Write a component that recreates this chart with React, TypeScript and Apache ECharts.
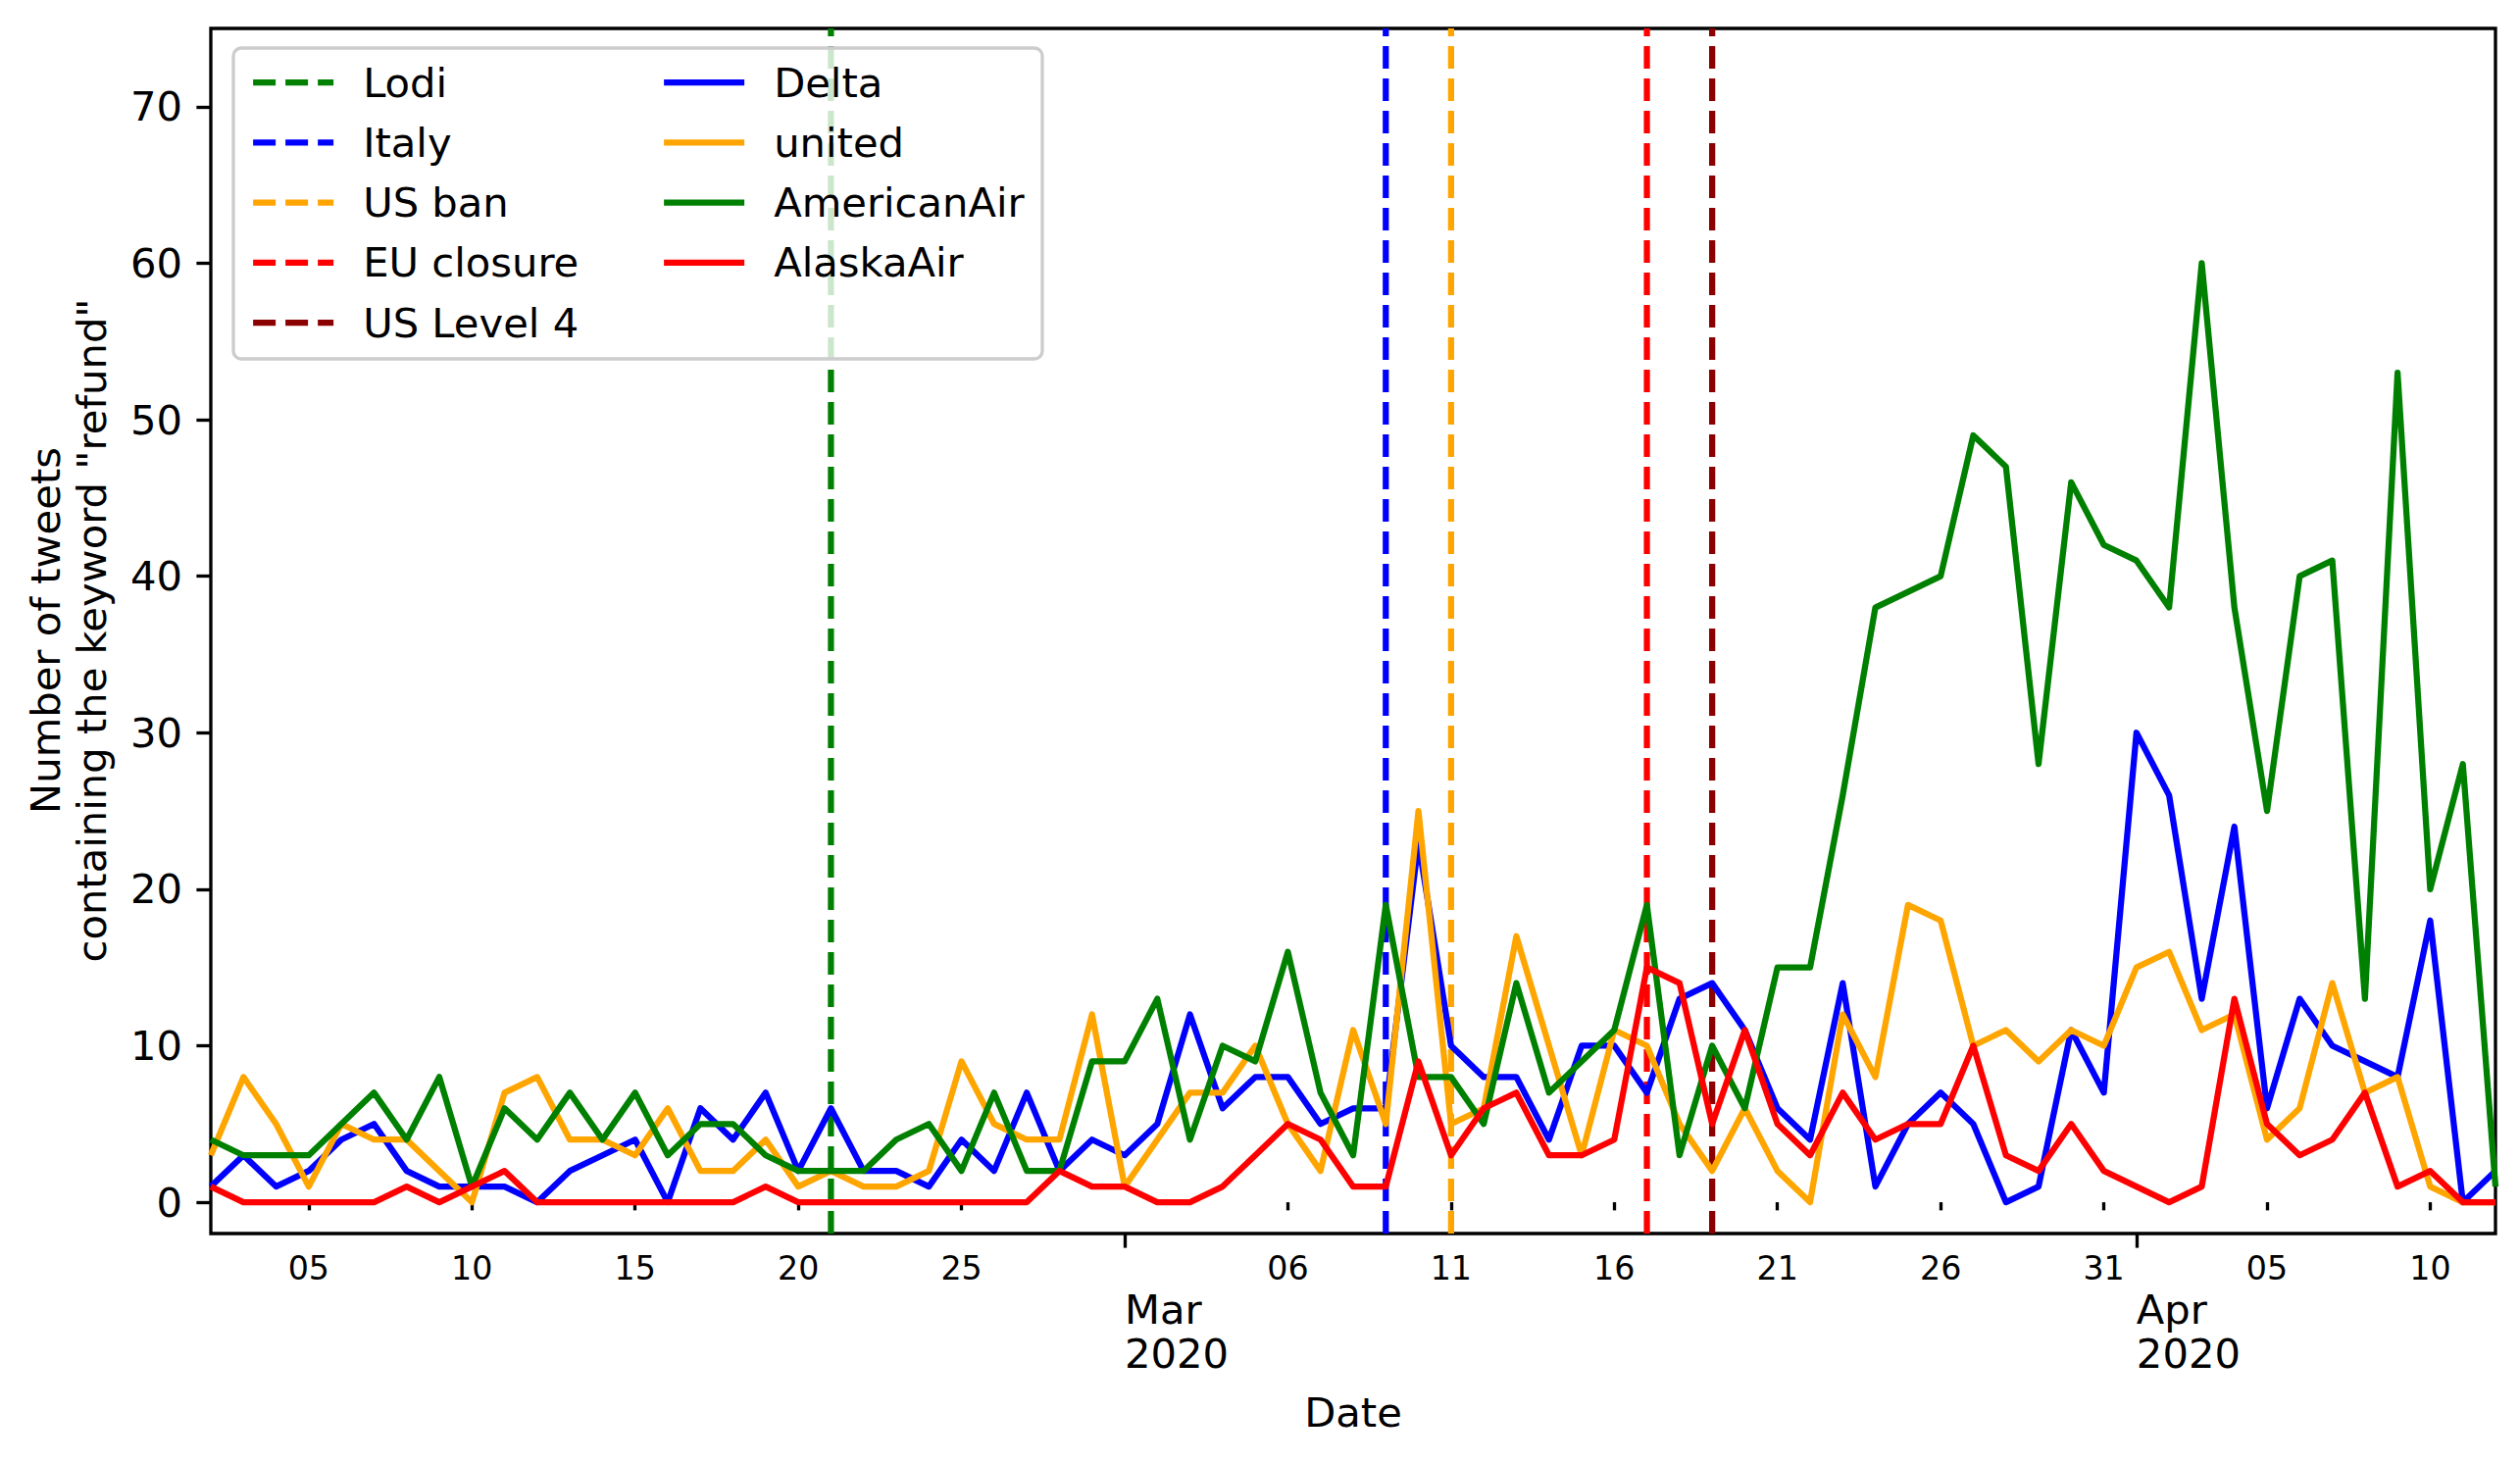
import React, { useEffect, useRef } from "react";
import * as echarts from "echarts";

const dates = [
  "2020-02-02", "2020-02-03", "2020-02-04", "2020-02-05", "2020-02-06", "2020-02-07", "2020-02-08",
  "2020-02-09", "2020-02-10", "2020-02-11", "2020-02-12", "2020-02-13", "2020-02-14", "2020-02-15",
  "2020-02-16", "2020-02-17", "2020-02-18", "2020-02-19", "2020-02-20", "2020-02-21", "2020-02-22",
  "2020-02-23", "2020-02-24", "2020-02-25", "2020-02-26", "2020-02-27", "2020-02-28", "2020-02-29",
  "2020-03-01", "2020-03-02", "2020-03-03", "2020-03-04", "2020-03-05", "2020-03-06", "2020-03-07",
  "2020-03-08", "2020-03-09", "2020-03-10", "2020-03-11", "2020-03-12", "2020-03-13", "2020-03-14",
  "2020-03-15", "2020-03-16", "2020-03-17", "2020-03-18", "2020-03-19", "2020-03-20", "2020-03-21",
  "2020-03-22", "2020-03-23", "2020-03-24", "2020-03-25", "2020-03-26", "2020-03-27", "2020-03-28",
  "2020-03-29", "2020-03-30", "2020-03-31", "2020-04-01", "2020-04-02", "2020-04-03", "2020-04-04",
  "2020-04-05", "2020-04-06", "2020-04-07", "2020-04-08", "2020-04-09", "2020-04-10", "2020-04-11",
  "2020-04-12",
];

const delta = [
  1, 3, 1, 2, 4, 5, 2, 1, 1, 1, 0, 2, 3,
  4, 0, 6, 4, 7, 2, 6, 2, 2, 1, 4, 2,
  7, 2, 4, 3, 5, 12, 6, 8, 8, 5, 6, 6,
  23, 10, 8, 8, 4, 10, 10, 7, 13, 14, 11, 6,
  4, 14, 1, 5, 7, 5, 0, 1, 11, 7, 30, 26,
  13, 24, 6, 13, 10, 9, 8, 18, 0, 2,
];

const united = [
  3, 8, 5, 1, 5, 4, 4, 2, 0, 7, 8, 4, 4,
  3, 6, 2, 2, 4, 1, 2, 1, 1, 2, 9, 5,
  4, 4, 12, 1, 4, 7, 7, 10, 5, 2, 11, 5,
  25, 5, 6, 17, 10, 3, 11, 10, 5, 2, 6, 2,
  0, 12, 8, 19, 18, 10, 11, 9, 11, 10, 15, 16,
  11, 12, 4, 6, 14, 7, 8, 1, 0, 0,
];

const americanAir = [
  4, 3, 3, 3, 5, 7, 4, 8, 1, 6, 4, 7, 4,
  7, 3, 5, 5, 3, 2, 2, 2, 4, 5, 2, 7,
  2, 2, 9, 9, 13, 4, 10, 9, 16, 7, 3, 19,
  8, 8, 5, 14, 7, 9, 11, 19, 3, 10, 6, 15,
  15, 26, 38, 39, 40, 49, 47, 28, 46, 42, 41, 38,
  60, 38, 25, 40, 41, 13, 53, 20, 28, 1,
];

const alaskaAir = [
  1, 0, 0, 0, 0, 0, 1, 0, 1, 2, 0, 0, 0,
  0, 0, 0, 0, 1, 0, 0, 0, 0, 0, 0, 0,
  0, 2, 1, 1, 0, 0, 1, 3, 5, 4, 1, 1,
  9, 3, 6, 7, 3, 3, 4, 15, 14, 5, 11, 5,
  3, 7, 4, 5, 5, 10, 3, 2, 5, 2, 1, 0,
  1, 13, 5, 3, 4, 7, 1, 2, 0, 0,
];

const airlineNames = ["Delta", "united", "AmericanAir", "AlaskaAir"];
const airlineColors = ["#0000ff", "#ffa500", "#008000", "#ff0000"];
const airlineValues = [delta, united, americanAir, alaskaAir];

const eventNames = ["Lodi", "Italy", "US ban", "EU closure", "US Level 4"];
const eventDates = ["2020-02-21", "2020-03-09", "2020-03-11", "2020-03-17", "2020-03-19"];
const eventColors = ["#008000", "#0000ff", "#ffa500", "#ff0000", "#8b0000"];

const yTicks = [0, 10, 20, 30, 40, 50, 60, 70];
const minorTickDates = [
  "2020-02-05", "2020-02-10", "2020-02-15", "2020-02-20", "2020-02-25",
  "2020-03-06", "2020-03-11", "2020-03-16", "2020-03-21", "2020-03-26", "2020-03-31",
  "2020-04-05", "2020-04-10",
];
const minorTickLabels = ["05", "10", "15", "20", "25", "06", "11", "16", "21", "26", "31", "05", "10"];
const majorTickDates = ["2020-03-01", "2020-04-01"];
const majorTickLabels = ["Mar\n2020", "Apr\n2020"];

const FONT = "'DejaVu Sans', 'Liberation Sans', sans-serif";
const LW = 6.25;
const SPINE = 3.33;

export default function App() {
  const ref = useRef<HTMLDivElement>(null);

  useEffect(() => {
    if (!ref.current) return;
    const chart = echarts.init(ref.current, null, { renderer: "svg" });

    const legendCommon = {
      orient: "vertical",
      top: 60,
      itemWidth: 82,
      itemHeight: 20,
      itemGap: 13.3,
      padding: 0,
      selectedMode: false,
      z: 10,
      itemStyle: { opacity: 0 },
      lineStyle: { width: LW },
      textStyle: {
        fontSize: 41.7,
        fontFamily: FONT,
        color: "#000",
        lineHeight: 48,
        padding: [0, 0, 0, 25],
      },
    };

    const option = {
      animation: false,
      backgroundColor: "#ffffff",
      grid: {
        left: 215,
        right: 25,
        top: 29,
        bottom: 233,
        show: true,
        borderColor: "#000",
        borderWidth: SPINE,
        backgroundColor: "transparent",
        containLabel: false,
      },
      xAxis: [
        {
          type: "category",
          data: dates,
          boundaryGap: false,
          axisLine: { show: false },
          axisTick: {
            show: true,
            length: 8.3,
            lineStyle: { color: "#000", width: SPINE },
            interval: (_i: number, v: string) => minorTickDates.includes(v),
          },
          axisLabel: {
            interval: (_i: number, v: string) => minorTickDates.includes(v),
            formatter: (v: string) => {
              const k = minorTickDates.indexOf(v);
              return k >= 0 ? minorTickLabels[k] : "";
            },
            fontSize: 33.3,
            fontFamily: FONT,
            color: "#000",
            margin: 19,
          },
          splitLine: { show: false },
          name: "Date",
          nameLocation: "middle",
          nameGap: 158,
          nameTextStyle: {
            fontSize: 41.7,
            fontFamily: FONT,
            color: "#000",
            verticalAlign: "top",
            lineHeight: 48,
          },
        },
        {
          type: "category",
          data: dates,
          boundaryGap: false,
          position: "bottom",
          axisLine: { show: false },
          axisTick: {
            show: true,
            length: 14.6,
            lineStyle: { color: "#000", width: SPINE },
            interval: (_i: number, v: string) => majorTickDates.includes(v),
          },
          axisLabel: {
            interval: (_i: number, v: string) => majorTickDates.includes(v),
            formatter: (v: string) => {
              const k = majorTickDates.indexOf(v);
              return k >= 0 ? majorTickLabels[k] : "";
            },
            fontSize: 41.7,
            fontFamily: FONT,
            color: "#000",
            align: "left",
            lineHeight: 45,
            margin: 55,
          },
          splitLine: { show: false },
        },
      ],
      yAxis: {
        type: "value",
        min: -2,
        max: 75,
        axisLine: { show: false },
        axisTick: {
          show: true,
          customValues: yTicks,
          length: 14.6,
          lineStyle: { color: "#000", width: SPINE },
        },
        axisLabel: {
          customValues: yTicks,
          fontSize: 41.7,
          fontFamily: FONT,
          color: "#000",
          margin: 29,
        },
        splitLine: { show: false },
      },
      legend: [
        { ...legendCommon, left: 255, data: eventNames },
        { ...legendCommon, left: 674, data: airlineNames },
      ],
      graphic: [
        {
          type: "rect",
          z: 3,
          shape: { x: 238, y: 49, width: 825, height: 317, r: 8 },
          style: { fill: "rgba(255,255,255,0.8)", stroke: "#cccccc", lineWidth: SPINE },
          silent: true,
        },
        {
          type: "text",
          x: 70,
          y: 643,
          rotation: Math.PI / 2,
          z: 10,
          style: {
            text: 'Number of tweets\ncontaining the keyword "refund"',
            fontSize: 41.7,
            fontFamily: FONT,
            fill: "#000",
            align: "center",
            verticalAlign: "middle",
            lineHeight: 47,
          },
        },
      ],
      series: [
        ...eventNames.map((n, k) => ({
          name: n,
          type: "line",
          xAxisIndex: 0,
          yAxisIndex: 0,
          data: [
            [eventDates[k], -2],
            [eventDates[k], 75],
          ],
          symbol: "none",
          silent: true,
          z: 1,
          itemStyle: { color: eventColors[k] },
          lineStyle: { color: eventColors[k], width: LW, type: [23, 10], cap: "butt" },
        })),
        ...airlineNames.map((n, k) => ({
          name: n,
          type: "line",
          xAxisIndex: 0,
          yAxisIndex: 0,
          data: airlineValues[k],
          symbol: "none",
          silent: true,
          z: 2,
          itemStyle: { color: airlineColors[k] },
          lineStyle: { color: airlineColors[k], width: LW, join: "round" },
        })),
      ],
    };

    chart.setOption(option as any);
    return () => chart.dispose();
  }, []);

  return (
    <div
      ref={ref}
      style={{ position: "absolute", left: 0, top: 0, width: 2570, height: 1491, background: "#fff" }}
    />
  );
}
